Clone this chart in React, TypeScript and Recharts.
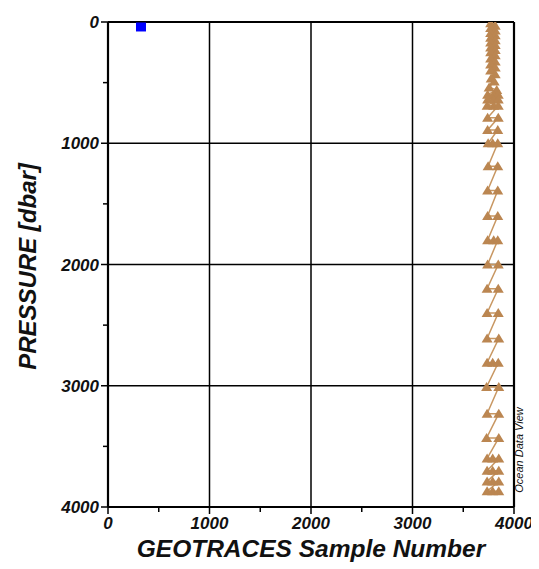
import React from 'react';
import { ScatterChart, Scatter, XAxis, YAxis, ReferenceLine, Label } from 'recharts';

const axisTicks = [0, 500, 1000, 1500, 2000, 2500, 3000, 3500, 4000];
const gridValues = [0, 1000, 2000, 3000, 4000];

const blueSamples = [325];
const bluePressures = [41];

const brownSamples = [
  3770, 3815, 3770, 3815, 3770, 3815, 3770, 3815, 3770, 3815,
  3770, 3815, 3770, 3815, 3770, 3815, 3770, 3815, 3770, 3815,
  3775, 3805, 3755, 3830, 3740, 3800, 3845, 3740, 3800, 3845, 3735, 3800, 3845,
  3740, 3845, 3740, 3840, 3745, 3790, 3840, 3745, 3840, 3740, 3840,
  3740, 3840, 3740, 3800, 3840, 3740, 3845, 3735, 3845,
  3735, 3845, 3735, 3850, 3735, 3790, 3845, 3730, 3850, 3735, 3850,
  3730, 3850, 3735, 3790, 3850, 3735, 3790, 3850, 3735, 3790, 3850, 3735, 3790, 3850,
];
const brownPressures = [
  10, 30, 50, 70, 90, 110, 130, 150, 170, 190,
  210, 230, 250, 275, 300, 325, 350, 375, 400, 430,
  465, 490, 540, 560, 600, 600, 600, 640, 640, 640, 690, 690, 690,
  790, 790, 890, 890, 1000, 1000, 1000, 1190, 1190, 1390, 1390,
  1600, 1600, 1800, 1800, 1800, 2000, 2000, 2200, 2200,
  2400, 2400, 2610, 2610, 2810, 2810, 2810, 3010, 3010, 3230, 3230,
  3430, 3430, 3600, 3600, 3600, 3700, 3700, 3700, 3790, 3790, 3790, 3870, 3870, 3870,
];

const blueData = blueSamples.map((s, i) => ({ sample: s, pressure: bluePressures[i] }));
const brownData = brownSamples.map((s, i) => ({ sample: s, pressure: brownPressures[i] }));

const FONT = '"Liberation Sans", Arial, sans-serif';
const BROWN = '#bb8651';
const BROWN_LINE = '#c89762';

const XTick = (props: any) => {
  const { x, y, payload } = props;
  const major = payload.value % 1000 === 0;
  return (
    <g>
      <line x1={x} x2={x} y1={y} y2={y + (major ? 7 : 5)} stroke="#000" strokeWidth={1.5} />
      {major && (
        <text x={x} y={y + 22} textAnchor="middle" fontFamily={FONT} fontSize={17} fontWeight="bold" fontStyle="italic" fill="#111">
          {payload.value}
        </text>
      )}
    </g>
  );
};

const YTick = (props: any) => {
  const { x, y, payload } = props;
  const major = payload.value % 1000 === 0;
  return (
    <g>
      <line x1={x} x2={x - (major ? 7 : 5)} y1={y} y2={y} stroke="#000" strokeWidth={1.5} />
      {major && (
        <text x={x - 9} y={y + 6} textAnchor="end" fontFamily={FONT} fontSize={17} fontWeight="bold" fontStyle="italic" fill="#111">
          {payload.value}
        </text>
      )}
    </g>
  );
};

const Triangle = (props: any) => {
  const { cx, cy } = props;
  if (cx == null || cy == null) return null;
  return <polygon points={`${cx},${cy - 5} ${cx + 5.5},${cy + 4} ${cx - 5.5},${cy + 4}`} fill={BROWN} />;
};

const Square = (props: any) => {
  const { cx, cy } = props;
  if (cx == null || cy == null) return null;
  return <rect x={cx - 5} y={cy - 4.5} width={10} height={9} fill="#0000ff" />;
};

export default function App() {
  return (
    <ScatterChart width={531} height={555} margin={{ top: 14, right: 25, left: 0, bottom: 0 }}>
      <XAxis
        type="number"
        dataKey="sample"
        domain={[0, 4000]}
        ticks={axisTicks}
        interval={0}
        axisLine={false}
        tickLine={false}
        tickSize={0}
        tickMargin={0}
        tick={<XTick />}
        height={56}
        allowDataOverflow
      >
        <Label
          content={(p: any) => {
            const vb = p.viewBox;
            return (
              <text x={vb.x + vb.width / 2} y={vb.y + 50} textAnchor="middle" fontFamily={FONT} fontSize={24.5} fontWeight="bold" fontStyle="italic" fill="#111">
                GEOTRACES Sample Number
              </text>
            );
          }}
        />
      </XAxis>
      <YAxis
        type="number"
        dataKey="pressure"
        domain={[0, 4000]}
        reversed
        ticks={axisTicks}
        interval={0}
        axisLine={false}
        tickLine={false}
        tickSize={0}
        tickMargin={0}
        tick={<YTick />}
        width={100}
        allowDataOverflow
      >
        <Label
          content={(p: any) => {
            const vb = p.viewBox;
            const cx = vb.x + 28;
            const cy = vb.y + vb.height / 2 + 2;
            return (
              <text x={cx} y={cy} transform={`rotate(-90 ${cx} ${cy})`} textAnchor="middle" fontFamily={FONT} fontSize={24} fontWeight="bold" fontStyle="italic" fill="#111">
                PRESSURE [dbar]
              </text>
            );
          }}
        />
      </YAxis>
      {gridValues.map((v) => (
        <ReferenceLine key={'x' + v} x={v} stroke="#000" strokeWidth={v === 0 || v === 4000 ? 2.2 : 1.5} ifOverflow="visible" />
      ))}
      {gridValues.map((v) => (
        <ReferenceLine key={'y' + v} y={v} stroke="#000" strokeWidth={v === 0 || v === 4000 ? 2.2 : 1.5} ifOverflow="visible" />
      ))}
      <ReferenceLine
        x={4000}
        stroke="none"
        ifOverflow="visible"
        label={(p: any) => {
          const vb = p.viewBox;
          const cx = vb.x + 9;
          const cy = vb.y + vb.height - 57;
          return (
            <text x={cx} y={cy} transform={`rotate(-90 ${cx} ${cy})`} textAnchor="middle" fontFamily={FONT} fontSize={11} fontStyle="italic" fill="#111">
              Ocean Data View
            </text>
          );
        }}
      />
      <Scatter
        data={brownData}
        shape={<Triangle />}
        line={{ stroke: BROWN_LINE, strokeWidth: 1.5 }}
        isAnimationActive={false}
      />
      <Scatter data={blueData} shape={<Square />} isAnimationActive={false} />
    </ScatterChart>
  );
}
